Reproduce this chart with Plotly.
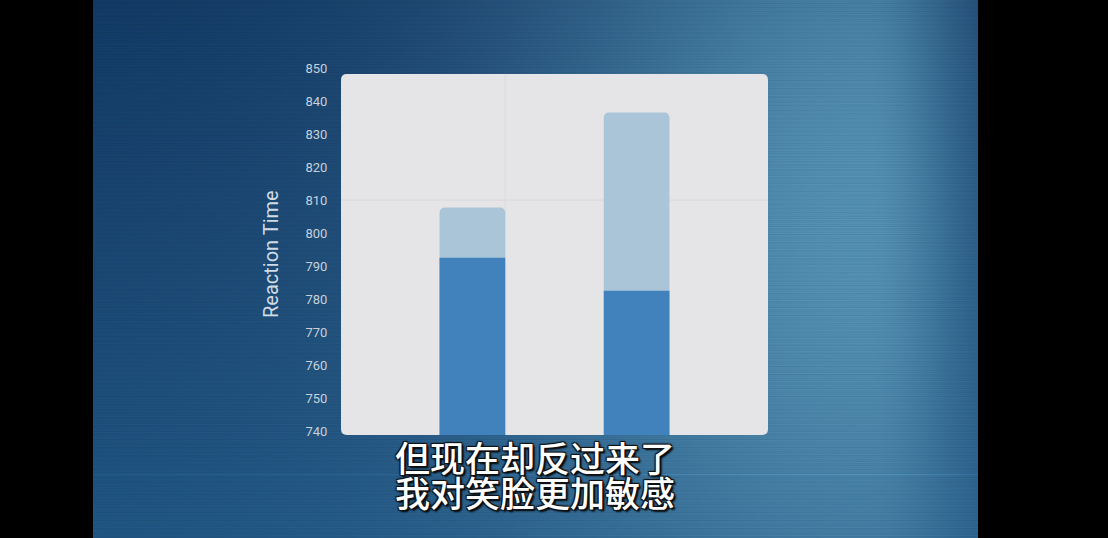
import base64
import struct
import zlib

import numpy as np
import plotly.graph_objects as go

# datos
categorias = ["Condición A", "Condición B"]
tiempo_total = [807.7, 836.5]
tiempo_base = [792.5, 782.5]
ticks_y = [740, 750, 760, 770, 780, 790, 800, 810, 820, 830, 840, 850]
subtitulo = ["但现在却反过来了", "我对笑脸更加敏感"]

W, H = 1108, 538


def png_uri(rgb):
    h, w, _ = rgb.shape
    raw = b"".join(b"\x00" + rgb[i].tobytes() for i in range(h))

    def chunk(tag, data):
        c = struct.pack(">I", len(data)) + tag + data
        return c + struct.pack(">I", zlib.crc32(tag + data) & 0xffffffff)

    png = (b"\x89PNG\r\n\x1a\n"
           + chunk(b"IHDR", struct.pack(">IIBBBBB", w, h, 8, 2, 0, 0, 0))
           + chunk(b"IDAT", zlib.compress(raw, 9))
           + chunk(b"IEND", b""))
    return "data:image/png;base64," + base64.b64encode(png).decode()


# fondo azul del video (degradado con brillo a la derecha y lineas horizontales)
x0_bg, x1_bg = 93, 978
xx, yy = np.meshgrid(np.arange(x0_bg, x1_bg, dtype=float), np.arange(H, dtype=float))
top = np.array([18, 57, 99.0])
bottom = np.array([32, 84, 128.0])
t = (yy / H)[..., None]
oscuro = top * (1 - t) + bottom * t
oscuro = oscuro + (np.clip((xx - x0_bg) / 450, 0, 1) * 6)[..., None]
claro = np.array([82, 142, 176.0])
dx = xx - 865
sigma = np.where(dx < 0, 230, 70)
w = np.exp(-0.5 * (dx / sigma) ** 2) * np.exp(-0.5 * ((yy - 230) / 320) ** 2)
col = oscuro * (1 - w[..., None]) + claro * w[..., None]
rayas = 0.035 * np.sin(yy * 1.9) * np.sin(yy * 0.43 + 1.0) + 0.02 * np.sin(yy * 3.1 + xx * 0.002)
col = col * (1 + rayas[..., None])
col[474] = col[474] * 1.15
col = np.clip(col, 0, 255).astype(np.uint8)

fig = go.Figure()

fig.add_trace(go.Bar(x=[0, 1], y=tiempo_total, width=0.40,
                     marker=dict(color="#aac5d8", cornerradius=5, line_width=0),
                     hovertext=categorias, name="total"))
fig.add_trace(go.Bar(x=[0, 1], y=tiempo_base, width=0.40,
                     marker=dict(color="#4181bc", cornerradius=5, line_width=0),
                     hovertext=categorias, name="base"))

# panel blanco con esquinas redondeadas
px0, px1, py0, py1 = -0.80, 1.80, 738.8, 848.2
rx, ry = 6 / 164.2, 6 / 3.309
panel = (f"M {px0+rx},{py0} L {px1-rx},{py0} Q {px1},{py0} {px1},{py0+ry} "
         f"L {px1},{py1-ry} Q {px1},{py1} {px1-rx},{py1} L {px0+rx},{py1} "
         f"Q {px0},{py1} {px0},{py1-ry} L {px0},{py0+ry} Q {px0},{py0} {px0+rx},{py0} Z")
fig.add_shape(type="path", path=panel, xref="x", yref="y", layer="below",
              fillcolor="#e5e5e7", line_width=0)
fig.add_shape(type="line", x0=px0, x1=px1, y0=810, y1=810, xref="x", yref="y",
              layer="below", line=dict(color="#d8d8db", width=1))
fig.add_shape(type="line", x0=0.2, x1=0.2, y0=py0, y1=py1, xref="x", yref="y",
              layer="below", line=dict(color="#dcdcdf", width=1))

fig.add_layout_image(source=png_uri(col), xref="paper", yref="paper",
                     x=x0_bg / W, y=1, sizex=(x1_bg - x0_bg) / W, sizey=1,
                     xanchor="left", yanchor="top", sizing="stretch", layer="below")

fig.add_annotation(text="Reaction Time", x=271 / W, y=1 - 254 / H, xref="paper", yref="paper",
                   textangle=-90, showarrow=False, xanchor="center", yanchor="middle",
                   font=dict(family="Roboto", size=20, color="#d0dbe4"))

sombra = "1px 1px 1px #111, -1px -1px 1px #111, 1px -1px 1px #111, -1px 1px 1px #111, 2px 2px 2px #000"
for i, linea in enumerate(subtitulo):
    fig.add_annotation(text=linea, x=535 / W, y=1 - (456 + 36 * i) / H, xref="paper", yref="paper",
                       showarrow=False, xanchor="center", yanchor="middle",
                       font=dict(family="Noto Sans CJK SC", size=35, weight=500,
                                 color="#ffffff", shadow=sombra))

fig.update_layout(
    width=W, height=H,
    margin=dict(l=0, r=0, t=0, b=0, autoexpand=False),
    paper_bgcolor="#000000",
    plot_bgcolor="rgba(0,0,0,0)",
    barmode="overlay",
    showlegend=False,
    xaxis=dict(domain=[341 / W, 768 / W], range=[-0.80, 1.80], tickvals=[0, 1], ticktext=categorias,
               showticklabels=False, showgrid=False, zeroline=False, showline=False, ticks="",
               automargin=False),
    yaxis=dict(domain=[1 - 435 / H, 1 - 67 / H], range=[738.8, 850.3], tickvals=ticks_y,
               showgrid=False, zeroline=False, showline=False, automargin=False,
               ticks="outside", ticklen=10, tickcolor="rgba(0,0,0,0)",
               tickfont=dict(family="Roboto", size=13, color="#c6d1db")),
)

fig.write_html(
    "out.html",
    config={"displayModeBar": False},
    post_script=("document.body.style.margin='0';document.body.style.background='#000';"
                 "document.body.style.overflow='hidden';"
                 "var d=document.getElementById('{plot_id}');"
                 "d.style.position='fixed';d.style.top='0px';d.style.left='0px';"),
)
